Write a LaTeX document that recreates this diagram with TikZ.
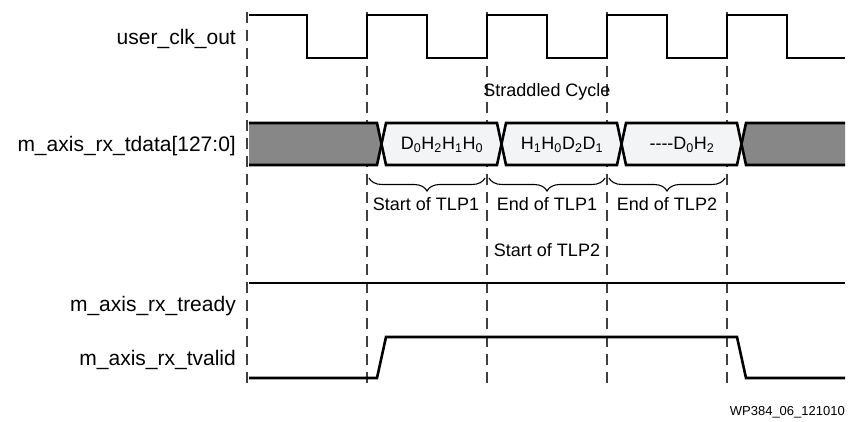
\documentclass[tikz,border=0pt]{standalone}
\usepackage{fontspec}
\setmainfont{Liberation Sans}
\usetikzlibrary{decorations.pathreplacing}
\definecolor{busgray}{HTML}{878787}
\definecolor{buslight}{HTML}{F3F4F6}

\begin{document}
\begin{tikzpicture}[x=1pt, y=-1pt,
        signame/.style={anchor=base east, inner sep=0pt, font=\fontsize{21}{25}\selectfont},
        note/.style={anchor=base, inner sep=0pt, font=\fontsize{18}{22}\selectfont},
        wave/.style={line width=2.6pt, line join=miter, black},
        cycleline/.style={dash pattern=on 11pt off 7pt, line width=1.2pt, black!75},
        span/.style={decorate, decoration={brace, mirror, amplitude=13pt}, line width=1.1pt}
    ]
        \useasboundingbox (0,0) rectangle (849,422);

        % Cycle lines
        \foreach \x in {247,367,487,607,727}
            \draw[cycleline] (\x,12) -- (\x,388);

        % Signal names
        \node[signame] (clk) at (236,45) {user\_clk\_out};
        \node[signame] (tdata) at (236,152) {m\_axis\_rx\_tdata[127:0]};
        \node[signame] (tready) at (236,311) {m\_axis\_rx\_tready};
        \node[signame] (tvalid) at (236,365) {m\_axis\_rx\_tvalid};

        % Clock
        \draw[wave] (249,15) \foreach \t in {307,427,547,667} { -- (\t,15) -- (\t,58) -- (\t+60,58) -- (\t+60,15) } -- (787,15) -- (787,58) -- (845,58);

        % Data bus
        \fill[busgray] (249,123) -- (377,123) -- (381.5,144) -- (377,165) -- (249,165) -- cycle;
        \fill[busgray] (845,123) -- (746,123) -- (741.5,144) -- (746,165) -- (845,165) -- cycle;
        \foreach \a/\b in {381.5/501.5, 501.5/621.5, 621.5/741.5}
            \fill[buslight] (\a+4.5,123) -- (\b-4.5,123) -- (\b,144) -- (\b-4.5,165) -- (\a+4.5,165) -- (\a,144) -- cycle;
        \draw[wave] (249,123) -- (377,123) -- (386,165) -- (497,165) -- (506,123) -- (617,123) -- (626,165) -- (737,165) -- (746,123) -- (845,123);
        \draw[wave] (249,165) -- (377,165) -- (386,123) -- (497,123) -- (506,165) -- (617,165) -- (626,123) -- (737,123) -- (746,165) -- (845,165);

        \node[note] (cellA) at (442,150) {D\textsubscript{0}H\textsubscript{2}H\textsubscript{1}H\textsubscript{0}};
        \node[note] (cellB) at (562,150) {H\textsubscript{1}H\textsubscript{0}D\textsubscript{2}D\textsubscript{1}};
        \node[note] (cellC) at (682,150) {{-}{-}{-}{-}D\textsubscript{0}H\textsubscript{2}};

        % Braces and notes
        \draw[span] (369,178) -- (485,178);
        \draw[span] (489,178) -- (605,178);
        \draw[span] (609,178) -- (725,178);

        \node[note] (straddle) at (547,97) {Straddled Cycle};
        \node[note] (start1) at (426,211) {Start of TLP1};
        \node[note] (end1) at (547,211) {End of TLP1};
        \node[note] (end2) at (667,211) {End of TLP2};
        \node[note] (start2) at (547,257) {Start of TLP2};

        % Ready and valid
        \draw[wave] (249,283) -- (845,283);
        \draw[wave] (249,378) -- (377,378) -- (386,337) -- (737,337) -- (746,378) -- (845,378);

        \node[anchor=base east, inner sep=0pt, font=\fontsize{13}{16}\selectfont] (figid) at (845,415) {WP384\_06\_121010};
    \end{tikzpicture}
\end{document}
